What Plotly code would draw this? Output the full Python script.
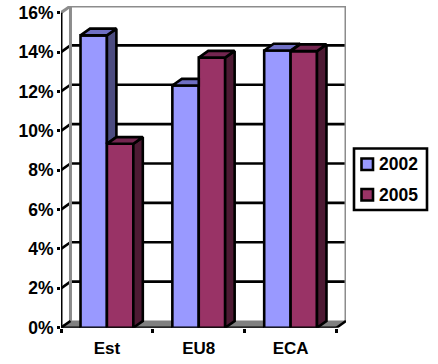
import plotly.graph_objects as go

categories = ["Est", "EU8", "ECA"]
series_2002 = [14.85, 12.3, 14.08]
series_2005 = [9.34, 13.72, 14.05]
y_ticks = [0, 2, 4, 6, 8, 10, 12, 14, 16]
y_tick_labels = ["0%", "2%", "4%", "6%", "8%", "10%", "12%", "14%", "16%"]
legend_labels = ["2002", "2005"]

W, H = 438, 364
L, R, T, B = 61, 346, 6, 327.7
BW = 0.2875
DX = 9.5 / 92
DY = 6.7 / 19.67
XMIN, XMAX = -0.5, 2.5 + DX
YMAX = 16 + DY
BLACK = "#000000"
GREY = "#8c8c8c"
C_A, C_A_TOP, C_A_SIDE = "#9999FF", "#6F6FC4", "#4C4C80"
C_B, C_B_TOP, C_B_SIDE = "#993366", "#732650", "#4D1A33"
FONT = "Liberation Sans"
LW = 2.6

fig = go.Figure()
xs = list(range(len(categories)))
fig.add_bar(x=xs, y=series_2002, width=BW, offset=-BW, name="2002",
            marker=dict(color=C_A, line=dict(color=BLACK, width=LW)))
fig.add_bar(x=xs, y=series_2005, width=BW, offset=0, name="2005",
            marker=dict(color=C_B, line=dict(color=BLACK, width=LW)))


def face(px, py, color):
    fig.add_scatter(x=px + [px[0]], y=py + [py[0]], mode="lines", fill="toself",
                    fillcolor=color, line=dict(color=BLACK, width=LW),
                    showlegend=False, hoverinfo="skip", cliponaxis=False)


for i, (a, b) in enumerate(zip(series_2002, series_2005)):
    x0, x1, x2 = i - BW, i, i + BW
    if b < a:
        face([x1, x1 + DX, x1 + DX, x1], [a, a + DY, b + DY, b], C_A_SIDE)
    if b > a + DY:
        face([x0, x1, x1, x0 + DX], [a, a, a + DY, a + DY], C_A_TOP)
    else:
        face([x0, x1, x1 + DX, x0 + DX], [a, a, a + DY, a + DY], C_A_TOP)
    face([x2, x2 + DX, x2 + DX, x2], [b, b + DY, DY, 0], C_B_SIDE)
    face([x1, x2, x2 + DX, x1 + DX], [b, b, b + DY, b + DY], C_B_TOP)

shapes = []


def line(x0, y0, x1, y1, color=BLACK, width=LW, layer="below"):
    shapes.append(dict(type="line", xref="x", yref="y", x0=x0, y0=y0, x1=x1, y1=y1,
                       layer=layer, line=dict(color=color, width=width)))


shapes.append(dict(type="path", xref="x", yref="y", layer="below",
                   path=f"M{XMIN},0 L{XMIN+DX},{DY} L{XMAX},{DY} L{XMIN+3},0 Z",
                   fillcolor="#808080", line=dict(color="#808080", width=1)))
for v in y_ticks[1:-1]:
    line(XMIN + DX, v + DY, XMAX - 0.01, v + DY)
    line(XMIN, v, XMIN + DX, v + DY)
line(XMIN + DX, DY, XMIN + DX, 16 + DY, GREY, 3)
line(XMIN + DX, 16 + DY, XMAX, 16 + DY, GREY, 3)
line(XMAX, 16 + DY, XMAX, DY, GREY, 3)
line(XMIN, 16, XMIN + DX, 16 + DY, GREY, 3)
line(XMIN, 0, XMIN, 16, BLACK, 3)
line(XMIN, 0, XMIN + 3, 0, BLACK, LW)
line(XMIN, 0, XMIN + DX, DY, BLACK, LW)
line(XMIN + 3, 0, XMAX, DY, BLACK, LW)

annotations = []
shapes.append(dict(type="rect", xref="paper", yref="paper",
                   x0=354 / W, x1=427 / W, y0=1 - 210 / H, y1=1 - 148.5 / H,
                   fillcolor="white", line=dict(color=BLACK, width=LW), layer="above"))
for label, color, top in zip(legend_labels, [C_A, C_B], [158.5, 189]):
    shapes.append(dict(type="rect", xref="paper", yref="paper",
                       x0=361.5 / W, x1=373 / W, y0=1 - (top + 11.5) / H, y1=1 - top / H,
                       fillcolor=color, line=dict(color=BLACK, width=LW), layer="above"))
    annotations.append(dict(xref="paper", yref="paper", x=378 / W,
                            y=1 - (top + 5.75) / H, xanchor="left", yanchor="middle",
                            text=f"<b>{label}</b>", showarrow=False, xshift=-1,
                            font=dict(family=FONT, size=17.5, color=BLACK)))

fig.update_layout(
    width=W, height=H, barmode="overlay", showlegend=False,
    margin=dict(l=0, r=0, t=0, b=0, pad=0, autoexpand=False),
    paper_bgcolor="white", plot_bgcolor="white",
    font=dict(family=FONT, size=17, color=BLACK),
    shapes=shapes, annotations=annotations,
    xaxis=dict(domain=[L / W, R / W], range=[XMIN, XMAX], tickvals=xs,
               ticktext=[f"<b>{c}</b>" for c in categories],
               ticks="outside", ticklen=5, tickcolor="rgba(0,0,0,0)", showgrid=False,
               zeroline=False, showline=False,
               tickfont=dict(family=FONT, size=17, color=BLACK),
               minor=dict(tickvals=[XMIN + k for k in range(4)], ticks="outside",
                          ticklen=4, tickwidth=2.5, tickcolor=BLACK, showgrid=False)),
    yaxis=dict(domain=[1 - B / H, 1 - T / H], range=[0, YMAX], tickvals=y_ticks,
               ticktext=[f"<b>{t}</b>" for t in y_tick_labels],
               ticks="outside", ticklen=3, tickwidth=2.5, tickcolor=BLACK, showgrid=False,
               zeroline=False, showline=False,
               tickfont=dict(family=FONT, size=17.5, color=BLACK)),
)
js = "document.body.style.margin='0';document.documentElement.style.overflow='hidden';"
fig.write_html("out.html", config=dict(displayModeBar=False), post_script=js)
